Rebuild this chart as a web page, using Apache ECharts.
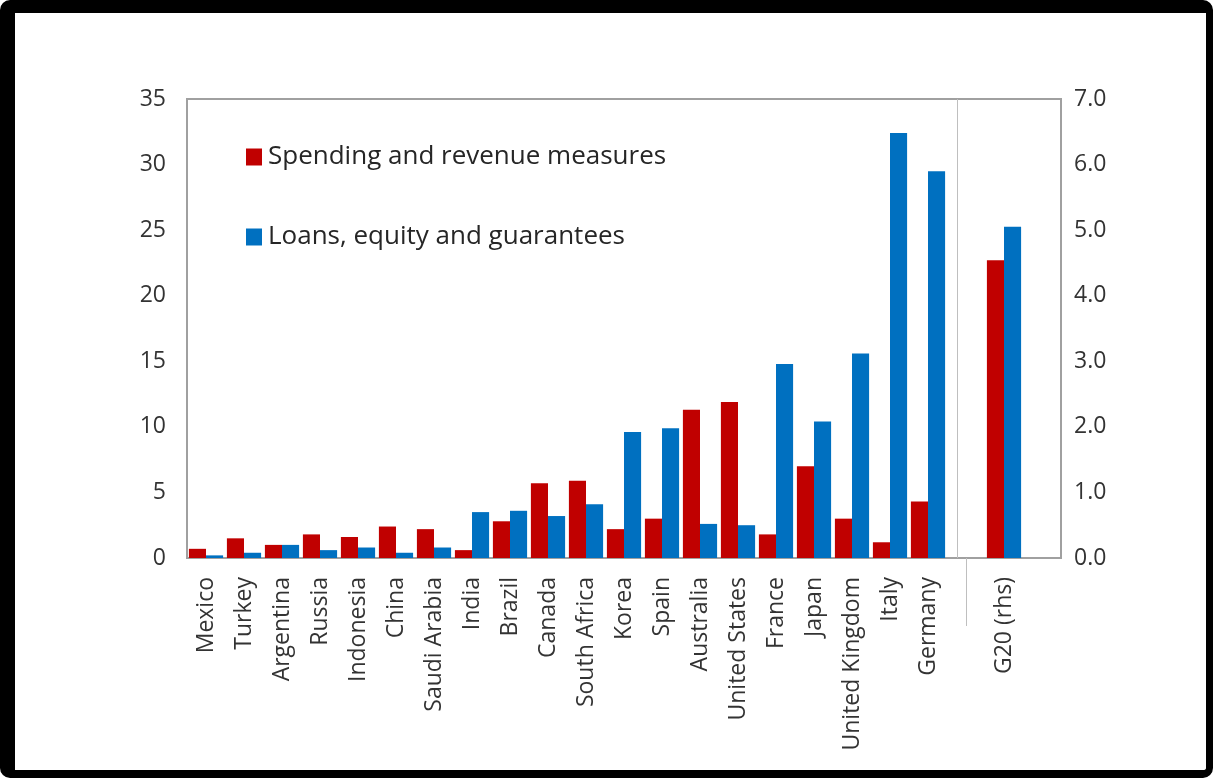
<!DOCTYPE html>
<html>
<head>
<meta charset="utf-8">
<script src="https://cdn.jsdelivr.net/npm/echarts@6/dist/echarts.min.js"></script>
<style>
  html, body { margin: 0; padding: 0; background: #ffffff; }
  #wrap { position: relative; width: 1213px; height: 778px; }
  #chart { position: absolute; left: 0; top: 0; width: 1213px; height: 778px; }
  #frame {
    position: absolute; left: 0; top: 0; width: 1213px; height: 778px;
    box-sizing: border-box; pointer-events: none;
    border-style: solid; border-color: #000;
    border-width: 13px 7px 8px 15px; border-radius: 10px;
  }
</style>
</head>
<body>
<div id="wrap">
  <div id="chart"></div>
  <div id="frame"></div>
</div>
<script>
// Fiscal support by G20 economy, % of GDP; the G20 aggregate is read on the right-hand axis
const categories = ['Mexico', 'Turkey', 'Argentina', 'Russia', 'Indonesia', 'China', 'Saudi Arabia',
  'India', 'Brazil', 'Canada', 'South Africa', 'Korea', 'Spain', 'Australia', 'United States',
  'France', 'Japan', 'United Kingdom', 'Italy', 'Germany', ' ', 'G20 (rhs)', '  '];

const spendingRevenue = [0.7, 1.5, 1.0, 1.8, 1.6, 2.4, 2.2, 0.6, 2.8, 5.7, 5.9, 2.2, 3.0, 11.3, 11.9,
  1.8, 7.0, 3.0, 1.2, 4.3, null, null, null];
const loansEquityGuarantees = [0.2, 0.4, 1.0, 0.6, 0.8, 0.4, 0.8, 3.5, 3.6, 3.2, 4.1, 9.6, 9.9, 2.6, 2.5,
  14.8, 10.4, 15.6, 32.4, 29.5, null, null, null];

// G20 aggregate (right-hand scale)
const g20Spending = [null, null, null, null, null, null, null, null, null, null, null, null, null, null,
  null, null, null, null, null, null, null, 4.54, null];
const g20Loans = [null, null, null, null, null, null, null, null, null, null, null, null, null, null,
  null, null, null, null, null, null, null, 5.05, null];

const leftTicks = { min: 0, max: 35, interval: 5 };
const rightTicks = { min: 0, max: 7, interval: 1 };

const separatorIndex = 20;

const RED = '#C00000';
const BLUE = '#0070C0';
const FONT = 'Open Sans';
const TEXT = '#333333';

const chart = echarts.init(document.getElementById('chart'), null, { renderer: 'canvas' });

const barCommon = { type: 'bar', barGap: '0%', barCategoryGap: '10%', animation: false };

chart.setOption({
  backgroundColor: '#ffffff',
  textStyle: { fontFamily: FONT },
  grid: {
    left: 187, top: 99, right: 152, bottom: 220,
    show: true, borderColor: '#a0a0a0', borderWidth: 2, backgroundColor: 'transparent'
  },
  legend: {
    orient: 'vertical', left: 241, top: 139, itemGap: 54,
    itemWidth: 16, itemHeight: 17, icon: 'rect',
    textStyle: { fontFamily: FONT, fontSize: 26, color: '#262626', padding: [0, 0, 0, 1] },
    data: ['Spending and revenue measures', 'Loans, equity and guarantees']
  },
  xAxis: [
    {
      type: 'category', data: categories, gridIndex: 0,
      axisLine: { show: false },
      axisTick: {
        show: true, alignWithLabel: true, length: 68, inside: false,
        interval: (i) => i === separatorIndex,
        lineStyle: { color: '#bfbfbf', width: 1 }
      },
      axisLabel: {
        interval: 0, rotate: 90, margin: 19,
        fontFamily: FONT, fontSize: 23, color: TEXT
      },
      splitLine: { show: false }
    },
    {
      type: 'category', data: categories, gridIndex: 0, show: false
    }
  ],
  yAxis: [
    {
      type: 'value', min: leftTicks.min, max: leftTicks.max, interval: leftTicks.interval,
      axisLine: { show: false }, axisTick: { show: false }, splitLine: { show: false },
      axisLabel: { margin: 21, fontFamily: FONT, fontSize: 23, color: TEXT }
    },
    {
      type: 'value', position: 'right',
      min: rightTicks.min, max: rightTicks.max, interval: rightTicks.interval,
      axisLine: { show: false }, axisTick: { show: false }, splitLine: { show: false },
      axisLabel: {
        margin: 13, fontFamily: FONT, fontSize: 23, color: TEXT,
        formatter: (v) => v.toFixed(1)
      }
    }
  ],
  series: [
    Object.assign({}, barCommon, {
      name: 'Spending and revenue measures', xAxisIndex: 0, yAxisIndex: 0,
      data: spendingRevenue, itemStyle: { color: RED },
      markLine: {
        silent: true, symbol: ['none', 'none'], animation: false,
        label: { show: false },
        lineStyle: { color: '#bfbfbf', width: 1, type: 'solid' },
        data: [{ xAxis: separatorIndex }]
      }
    }),
    Object.assign({}, barCommon, {
      name: 'Loans, equity and guarantees', xAxisIndex: 0, yAxisIndex: 0,
      data: loansEquityGuarantees, itemStyle: { color: BLUE }
    }),
    Object.assign({}, barCommon, {
      name: 'G20 spending and revenue measures', xAxisIndex: 1, yAxisIndex: 1,
      data: g20Spending, itemStyle: { color: RED }
    }),
    Object.assign({}, barCommon, {
      name: 'G20 loans, equity and guarantees', xAxisIndex: 1, yAxisIndex: 1,
      data: g20Loans, itemStyle: { color: BLUE }
    })
  ]
});
</script>
</body>
</html>
